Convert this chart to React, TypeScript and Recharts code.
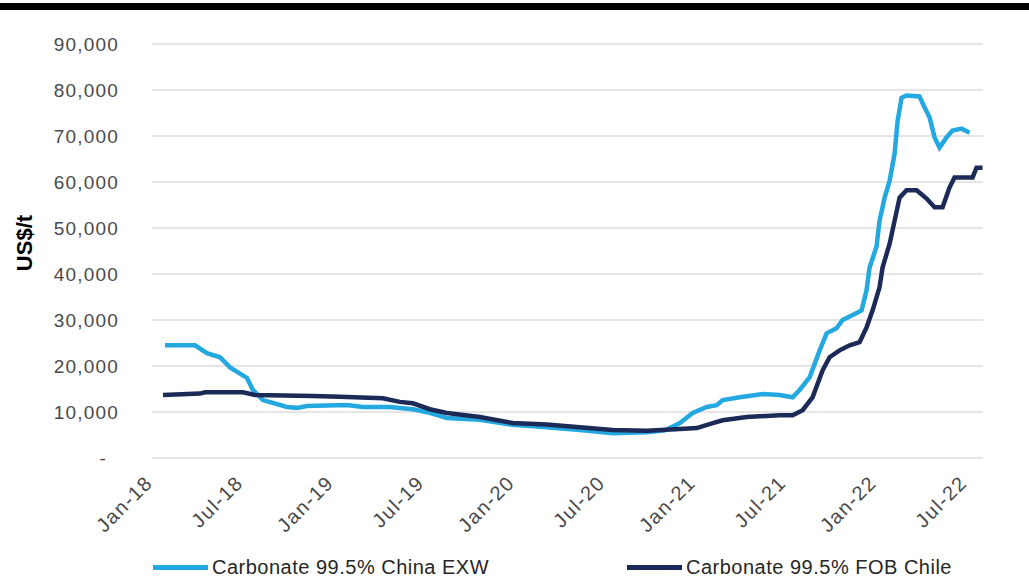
import React from 'react';
import { LineChart, Line, XAxis, YAxis, CartesianGrid } from 'recharts';

// x values are months since Jan-18
const exwMonths = [
  0.86, 2.85, 3.64, 4.51, 5.17, 6.3, 6.69, 7.36, 8.95, 9.61, 10.27, 12.92, 13.98, 15.77, 17.3, 18.42,
  19.55, 21.74, 23.92, 26.18, 28.36, 30.55, 32.8, 34.0, 35.0, 35.85, 36.78, 37.44, 37.84, 38.97, 40.49,
  41.62, 42.48, 42.94, 43.61, 44.27, 44.73, 45.39, 45.79, 46.72, 47.05, 47.38, 47.58, 48.04, 48.24,
  48.58, 48.91, 49.24, 49.44, 49.7, 50.03, 50.89, 51.23, 51.56, 51.89, 52.22, 52.68, 53.08, 53.68, 54.21,
];
const exwPrices = [
  24500, 24500, 22800, 21900, 19700, 17400, 14800, 12600, 11100, 10900, 11300, 11500, 11100, 11100, 10600, 9800,
  8700, 8300, 7200, 6700, 6100, 5400, 5600, 6000, 7600, 9800, 11100, 11500, 12600, 13200, 13900,
  13700, 13200, 14800, 17600, 23400, 27100, 28200, 30000, 31500, 32100, 36500, 41400, 46000, 51600,
  56600, 60300, 66200, 73300, 78300, 78800, 78600, 76200, 74000, 69700, 67500, 69700, 71200, 71600, 70700,
];

const fobMonths = [
  0.73, 3.18, 3.51, 6.03, 6.83, 10.67, 12.46, 15.31, 16.43, 17.3, 18.42, 19.55, 21.74, 23.92, 26.18, 28.36,
  30.55, 32.8, 34.99, 36.12, 37.18, 37.84, 39.43, 41.62, 42.48, 43.14, 43.8, 44.47, 44.93, 45.59, 46.26,
  46.92, 47.38, 47.78, 48.24, 48.44, 48.91, 49.24, 49.57, 50.03, 50.7, 51.36, 51.89, 52.42, 52.88, 53.21,
  54.41, 54.67, 55.07,
];
const fobPrices = [
  13700, 14000, 14300, 14300, 13700, 13500, 13300, 13000, 12200, 11900, 10600, 9800, 8900, 7600, 7300, 6700,
  6100, 5900, 6300, 6500, 7600, 8200, 8900, 9300, 9300, 10400, 13200, 19100, 21900, 23400, 24500,
  25200, 28400, 32100, 37100, 41400, 46600, 51600, 56600, 58200, 58200, 56400, 54500, 54500, 58800, 61000,
  61000, 63100, 63100,
];

const xTicks = [0, 6, 12, 18, 24, 30, 36, 42, 48, 54];
const xTickLabels = ['Jan-18', 'Jul-18', 'Jan-19', 'Jul-19', 'Jan-20', 'Jul-20', 'Jan-21', 'Jul-21', 'Jan-22', 'Jul-22'];
const yTicks = [0, 10000, 20000, 30000, 40000, 50000, 60000, 70000, 80000, 90000];

const seriesNames = ['Carbonate 99.5% China EXW', 'Carbonate 99.5% FOB Chile'];
const LIGHT = '#23a8e0';
const DARK = '#1c2a58';
const FONT = '"Liberation Sans", Arial, sans-serif';
const TICK_COLOR = '#4a4a4a';

const exwData = exwMonths.map((m, i) => ({ month: m, price: exwPrices[i] }));
const fobData = fobMonths.map((m, i) => ({ month: m, price: fobPrices[i] }));

const YTick = ({ x, y, payload }: any) => {
  const v = payload.value as number;
  const label = v === 0 ? '-' : v.toLocaleString('en-US');
  return (
    <text x={v === 0 ? x - 12 : x} y={y} dy={7} textAnchor="end" fill={TICK_COLOR} fontSize={19} fontFamily={FONT} letterSpacing={1.2}>
      {label}
    </text>
  );
};

const XTick = ({ x, y, payload }: any) => {
  const idx = xTicks.indexOf(payload.value);
  return (
    <g transform={`translate(${x + 2},${y + 18})`}>
      <text textAnchor="end" transform="rotate(-45)" fill={TICK_COLOR} fontSize={20} fontFamily={FONT} letterSpacing={1.5}>
        {xTickLabels[idx]}
      </text>
    </g>
  );
};

const LegendItem = ({ color, label, left }: { color: string; label: string; left: number }) => (
  <div style={{ position: 'absolute', left, top: 556, display: 'flex', alignItems: 'center' }}>
    <div style={{ width: 55, height: 5, background: color, marginRight: 4 }} />
    <span style={{ fontFamily: FONT, fontSize: 20, color: '#262626', letterSpacing: 0.5 }}>{label}</span>
  </div>
);

export default function App() {
  return (
    <div style={{ position: 'relative', width: 1029, height: 583, background: '#fff', overflow: 'hidden' }}>
      <style>{`body{margin:0}`}</style>
      <div style={{ position: 'absolute', left: 0, top: 3, width: 1029, height: 7, background: '#000' }} />
      <LineChart width={1029} height={583} margin={{ top: 44, right: 46, left: 0, bottom: 0 }}>
        <CartesianGrid vertical={false} stroke="#dcdcdc" strokeWidth={1.5} />
        <XAxis
          type="number"
          dataKey="month"
          domain={[0, 55.1]}
          ticks={xTicks}
          tick={<XTick />}
          tickLine={false}
          axisLine={false}
          height={125}
          interval={0}
        />
        <YAxis
          domain={[0, 90000]}
          ticks={yTicks}
          tick={<YTick />}
          tickLine={false}
          axisLine={false}
          width={152}
          tickMargin={27}
          label={{
            value: 'US$/t',
            angle: -90,
            position: 'insideLeft',
            offset: 24,
            dy: -8,
            style: { fontFamily: FONT, fontSize: 22, fontWeight: 'bold', fill: '#000', textAnchor: 'middle' },
          }}
        />
        <Line
          data={exwData}
          dataKey="price"
          name={seriesNames[0]}
          type="linear"
          stroke={LIGHT}
          strokeWidth={4.5}
          dot={false}
          isAnimationActive={false}
        />
        <Line
          data={fobData}
          dataKey="price"
          name={seriesNames[1]}
          type="linear"
          stroke={DARK}
          strokeWidth={4.5}
          dot={false}
          isAnimationActive={false}
        />
      </LineChart>
      <LegendItem color={LIGHT} label={seriesNames[0]} left={153} />
      <LegendItem color={DARK} label={seriesNames[1]} left={627} />
    </div>
  );
}
